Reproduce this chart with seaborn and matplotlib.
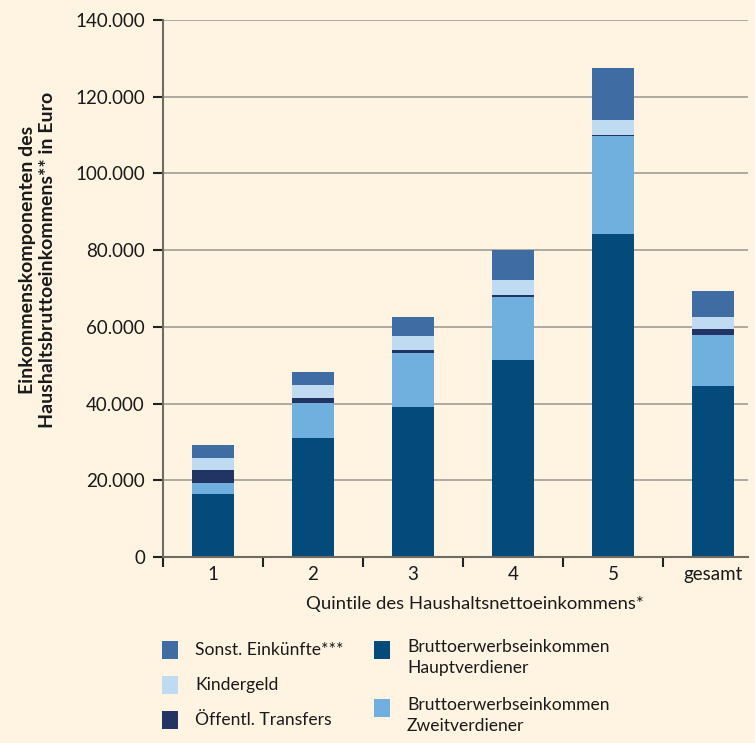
import matplotlib
matplotlib.use("Agg")
import matplotlib.pyplot as plt
import seaborn as sns
import numpy as np
from matplotlib.patches import Rectangle
from matplotlib.ticker import FuncFormatter, FixedLocator

# Quintiles of household net income
categories = ["1", "2", "3", "4", "5", "gesamt"]

# Income components in Euro (stacked from bottom to top)
haupt = [16400, 31000, 39100, 51400, 84200, 44600]       # Bruttoerwerbseinkommen Hauptverdiener
zweit = [2900, 9100, 14100, 16400, 25500, 13300]         # Bruttoerwerbseinkommen Zweitverdiener
transfers = [3400, 1300, 800, 400, 400, 1500]            # Öffentl. Transfers
kindergeld = [3100, 3400, 3600, 4000, 3800, 3200]        # Kindergeld
sonst = [3400, 3400, 5000, 7800, 13600, 6700]            # Sonst. Einkünfte***

series_labels = ["Bruttoerwerbseinkommen\nHauptverdiener",
                 "Bruttoerwerbseinkommen\nZweitverdiener",
                 "Öffentl. Transfers", "Kindergeld", "Sonst. Einkünfte***"]
colors = ["#044A7A", "#70B0DE", "#213463", "#BEDBF1", "#3F6CA3"]

bg = "#FEF4E1"
txt = "#1a1a1a"
font = ["Lato", "DejaVu Sans"]

sns.set_theme(style="white")
plt.rcParams["font.family"] = font

fig = plt.figure(figsize=(7.55, 7.43), dpi=100, facecolor=bg)
ax = fig.add_axes([163 / 755, 1 - 557 / 743, (748 - 163) / 755, (557 - 20) / 743])
ax.set_facecolor(bg)

layers = [haupt, zweit, transfers, kindergeld, sonst]
cum = np.cumsum(np.array(layers, dtype=float), axis=0)

# Draw from the tallest cumulative total down so each layer shows its own segment
for i in range(len(layers) - 1, -1, -1):
    sns.barplot(x=categories, y=cum[i], color=colors[i], saturation=1,
                width=0.42, ax=ax, linewidth=0, zorder=3)

ax.set_ylim(0, 140000)
ax.set_xlim(-0.5, 5.35)
ax.yaxis.set_major_locator(FixedLocator(np.arange(0, 140001, 20000)))
ax.yaxis.set_major_formatter(FuncFormatter(lambda v, p: f"{int(v):,}".replace(",", ".")))
ax.grid(axis="y", color="#A8A399", linewidth=1.3, zorder=0)
ax.grid(axis="x", visible=False)

for s in ["top", "right"]:
    ax.spines[s].set_visible(False)
ax.spines["left"].set_color("#6E6A64")
ax.spines["left"].set_linewidth(1.5)
ax.spines["bottom"].set_color("#6E6A64")
ax.spines["bottom"].set_linewidth(1.5)
ax.spines["bottom"].set_zorder(4)

ax.tick_params(axis="y", which="major", left=True, length=7, width=1.5, color="#222222",
               labelsize=13.5, labelcolor=txt, pad=6)
ax.set_xticks(range(len(categories)))
ax.set_xticklabels(categories)
ax.tick_params(axis="x", which="major", bottom=False, labelsize=13.5, labelcolor=txt, pad=0.5)
ax.set_xticks(np.arange(-0.5, 5.0, 1.0), minor=True)
ax.tick_params(axis="x", which="minor", bottom=True, length=7, width=1.5, color="#222222")

ax.set_xlabel("Quintile des Haushaltsnettoeinkommens*", fontsize=13.3, color=txt)
ax.xaxis.set_label_coords((475 - 163) / (748 - 163), -(596 - 557) / (557 - 20))
ax.set_ylabel("Einkommenskomponenten des\nHaushaltsbruttoeinkommens** in Euro",
              fontsize=14, fontweight="bold", color=txt, linespacing=1.22)
ax.yaxis.set_label_coords(-(163 - 56) / (748 - 163), (557 - 260) / (557 - 20))

# Legend: two columns of colored squares with labels
W, H = 755, 743
def legend_square(x, y, color):
    fig.patches.append(Rectangle((x / W, 1 - (y + 18) / H), 16 / W, 18 / H,
                                 transform=fig.transFigure, facecolor=color,
                                 edgecolor="none", figure=fig))

for (y, c, t) in [(641, colors[4], series_labels[4]),
                  (676, colors[3], series_labels[3]),
                  (711, colors[2], series_labels[2])]:
    legend_square(162, y, c)
    fig.text(195 / W, 1 - (y + 9) / H, t, fontsize=12.6, color=txt, va="center", ha="left")

for (y, c, t) in [(641, colors[0], series_labels[0]), (699, colors[1], series_labels[1])]:
    legend_square(374, y, c)
    fig.text(407 / W, 1 - (y - 2) / H, t, fontsize=12.6, color=txt,
             va="top", ha="left", linespacing=1.35)

fig.savefig("out.png", dpi=100, facecolor=bg)
